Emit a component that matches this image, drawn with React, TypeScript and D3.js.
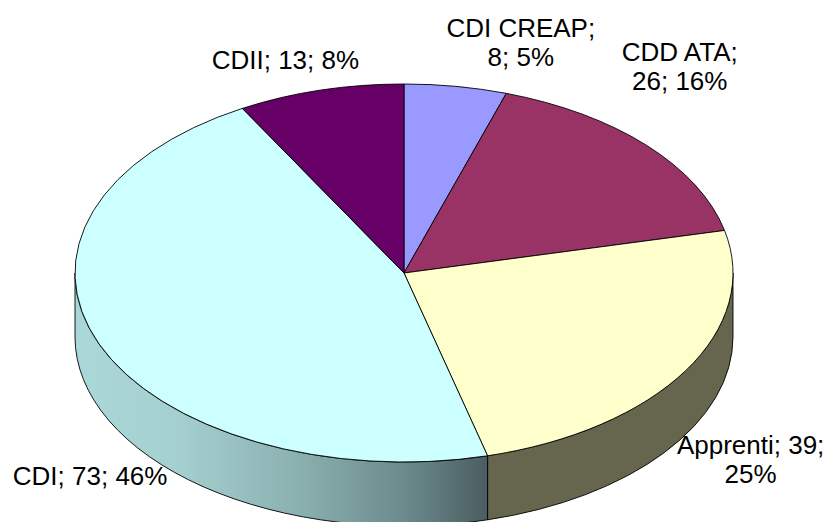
import React from "react";
import * as d3 from "d3";

// ---- data ----
const categories = ["CDI CREAP", "CDD ATA", "Apprenti", "CDI", "CDII"];
const values = [8, 26, 39, 73, 13];
const topColors = ["#9999FF", "#993366", "#FFFFCC", "#CCFFFF", "#660066"];
// label line breaks (as in the reference)
const labelLines = [
  (c: string, v: number, p: string) => [`${c};`, `${v}; ${p}`],
  (c: string, v: number, p: string) => [`${c};`, `${v}; ${p}`],
  (c: string, v: number, p: string) => [`${c}; ${v};`, `${p}`],
  (c: string, v: number, p: string) => [`${c}; ${v}; ${p}`],
  (c: string, v: number, p: string) => [`${c}; ${v}; ${p}`],
];

// ---- layout ----
const W = 829;
const H = 522;
const cx = 404;
const cy = 273;
const rx = 329;
const ry = 189;
const depth = 64;
const fontSize = 26;
const lineH = 29;
// label offsets from the slice mid-point on the rim
const labelOffsets: [number, number][] = [
  [65, -44],
  [33, -79],
  [65, 88],
  [-9, 132],
  [-35, -31],
];

const sideColors: Record<string, string> = {
  Apprenti: "#66664F",
  CDI: "url(#cdiSide)",
};

function pt(a: number, dy = 0): [number, number] {
  return [cx + rx * Math.sin(a), cy - ry * Math.cos(a) + dy];
}

export default function App() {
  const total = d3.sum(values);
  const pie = d3
    .pie<number>()
    .sort(null)
    .value((d) => d);
  const arcs = pie(values);
  const arcGen = d3.arc<d3.PieArcDatum<number>>().innerRadius(0).outerRadius(rx);

  const sides = arcs
    .map((a, i) => {
      const a0 = Math.max(a.startAngle, Math.PI / 2);
      const a1 = Math.min(a.endAngle, (3 * Math.PI) / 2);
      if (a0 >= a1) return null;
      const [x0, y0] = pt(a0);
      const [x1, y1] = pt(a1);
      const [x1b, y1b] = pt(a1, depth);
      const [x0b, y0b] = pt(a0, depth);
      const d = `M${x0},${y0}A${rx},${ry} 0 0 1 ${x1},${y1}L${x1b},${y1b}A${rx},${ry} 0 0 0 ${x0b},${y0b}Z`;
      return { d, i };
    })
    .filter(Boolean) as { d: string; i: number }[];

  return (
    <svg
      width={W}
      height={H}
      style={{ position: "fixed", left: 0, top: 0, background: "#fff" }}
      fontFamily="'Liberation Sans', Arial, sans-serif"
    >
      <defs>
        <linearGradient id="cdiSide" gradientUnits="userSpaceOnUse" x1={cx - rx} y1={0} x2={pt(arcs[3].startAngle)[0]} y2={0}>
          <stop offset="0" stopColor="#AAD7D7" />
          <stop offset="0.25" stopColor="#A5D0D0" />
          <stop offset="0.55" stopColor="#8AAFAF" />
          <stop offset="0.8" stopColor="#6B8A8C" />
          <stop offset="1" stopColor="#4B5D61" />
        </linearGradient>
      </defs>
      {sides.map((s) => (
        <path
          key={"s" + s.i}
          d={s.d}
          fill={sideColors[categories[s.i]] || topColors[s.i]}
          stroke="#000"
          strokeWidth={0.9}
          strokeLinejoin="round"
        />
      ))}
      <g transform={`translate(${cx},${cy}) scale(1,${ry / rx})`}>
        {arcs.map((a, i) => (
          <path
            key={"t" + i}
            d={arcGen(a) || ""}
            fill={topColors[i]}
            stroke="#000"
            strokeWidth={0.9}
            strokeLinejoin="round"
            vectorEffect="non-scaling-stroke"
          />
        ))}
      </g>
      {arcs.map((a, i) => {
        const mid = (a.startAngle + a.endAngle) / 2;
        const [mx, my] = pt(mid);
        const lx = mx + labelOffsets[i][0];
        const ly = my + labelOffsets[i][1];
        const pct = Math.round((values[i] / total) * 100) + "%";
        const lines = labelLines[i](categories[i], values[i], pct);
        const n = lines.length;
        return (
          <text key={"l" + i} fontSize={fontSize} fill="#000" textAnchor="middle">
            {lines.map((ln, j) => (
              <tspan key={j} x={lx} y={ly + (j - (n - 1) / 2) * lineH + fontSize * 0.358}>
                {ln}
              </tspan>
            ))}
          </text>
        );
      })}
    </svg>
  );
}
